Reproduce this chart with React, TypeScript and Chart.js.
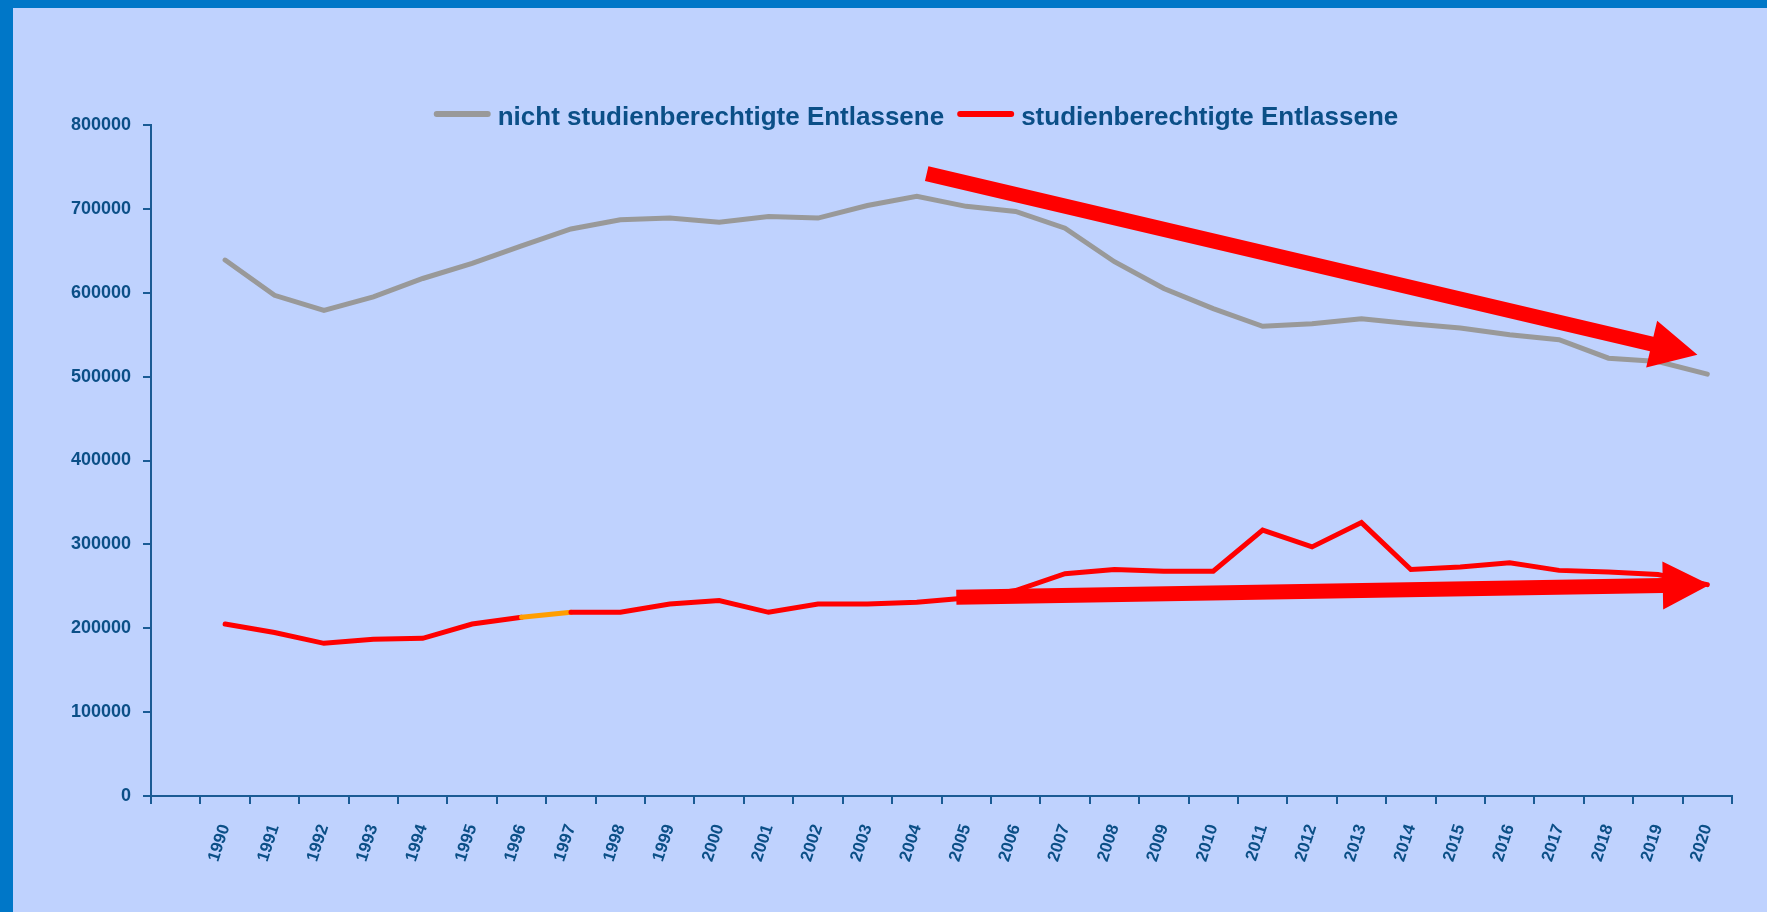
import React, { useEffect, useRef } from 'react';
import { Chart, registerables } from 'chart.js';

Chart.register(...registerables);

// ---------- data ----------
const years = [
  1990, 1991, 1992, 1993, 1994, 1995, 1996, 1997, 1998, 1999,
  2000, 2001, 2002, 2003, 2004, 2005, 2006, 2007, 2008, 2009,
  2010, 2011, 2012, 2013, 2014, 2015, 2016, 2017, 2018, 2019, 2020,
];

const nichtStudienberechtigte = [
  639000, 597000, 579000, 595000, 617000, 635000, 656000, 676000, 687000, 689000,
  684000, 691000, 689000, 704000, 715000, 703000, 697000, 677000, 637000, 605000,
  581000, 560000, 563000, 569000, 563000, 558000, 550000, 544000, 522000, 518000, 503000,
];

const studienberechtigte = [
  205000, 195000, 182000, 187000, 188000, 205000, 213000, 219000, 219000, 229000,
  233000, 219000, 229000, 229000, 231000, 236000, 245000, 265000, 270000, 268000,
  268000, 317000, 297000, 326000, 270000, 273000, 278000, 269000, 267000, 264000, 252000,
];

const seriesLabels = ['nicht studienberechtigte Entlassene', 'studienberechtigte Entlassene'];

const yTickValues = [0, 100000, 200000, 300000, 400000, 500000, 600000, 700000, 800000];

// trend arrows (data coordinates: year, value)
const arrowStartYear = [2004.2, 2004.8];
const arrowStartValue = [742000, 237000];
const arrowEndYear = [2019.8, 2020.05];
const arrowEndValue = [526000, 252000];

// ---------- styles ----------
const TEXT = '#0B4F87';
const AXIS = '#1A5B95';
const GRAY = '#999999';
const RED = '#FF0000';
const ORANGE = '#FF9E00';
const FONT = "'Liberation Sans', Arial, sans-serif";

const lineLegend = {
  id: 'lineLegend',
  afterDraw(chart: any, _args: any, opts: any) {
    const ctx = chart.ctx as CanvasRenderingContext2D;
    ctx.save();
    ctx.font = `bold ${opts.fontSize}px ${FONT}`;
    const items = chart.data.datasets.map((ds: any) => ({
      label: ds.label as string,
      color: ds.borderColor as string,
      w: ctx.measureText(ds.label).width,
    }));
    let total = 0;
    items.forEach((it: any, i: number) => {
      total += opts.lineLen + opts.gap + it.w + (i > 0 ? opts.itemGap : 0);
    });
    let x = opts.centerX - total / 2;
    items.forEach((it: any, i: number) => {
      if (i > 0) x += opts.itemGap;
      ctx.strokeStyle = it.color;
      ctx.lineWidth = opts.lineWidth;
      ctx.lineCap = 'round';
      ctx.beginPath();
      ctx.moveTo(x + opts.lineWidth / 2, opts.lineY);
      ctx.lineTo(x + opts.lineLen - opts.lineWidth / 2, opts.lineY);
      ctx.stroke();
      x += opts.lineLen + opts.gap;
      ctx.fillStyle = TEXT;
      ctx.textBaseline = 'middle';
      ctx.textAlign = 'left';
      ctx.fillText(it.label, x, opts.textY);
      x += it.w;
    });
    ctx.restore();
  },
};

const trendArrows = {
  id: 'trendArrows',
  afterDatasetsDraw(chart: any, _args: any, opts: any) {
    const ctx = chart.ctx as CanvasRenderingContext2D;
    const xs = chart.scales.x;
    const ys = chart.scales.y;
    ctx.save();
    ctx.fillStyle = opts.color;
    for (let i = 0; i < arrowStartYear.length; i++) {
      const x0 = xs.getPixelForValue(arrowStartYear[i]);
      const y0 = ys.getPixelForValue(arrowStartValue[i]);
      const x1 = xs.getPixelForValue(arrowEndYear[i]);
      const y1 = ys.getPixelForValue(arrowEndValue[i]);
      const len = Math.hypot(x1 - x0, y1 - y0);
      const ux = (x1 - x0) / len;
      const uy = (y1 - y0) / len;
      const nx = -uy;
      const ny = ux;
      const hw = opts.shaftWidth / 2;
      const bx = x1 - ux * opts.headLength;
      const by = y1 - uy * opts.headLength;
      const hh = opts.headWidth / 2;
      ctx.beginPath();
      ctx.moveTo(x0 + nx * hw, y0 + ny * hw);
      ctx.lineTo(bx + nx * hw, by + ny * hw);
      ctx.lineTo(bx + nx * hh, by + ny * hh);
      ctx.lineTo(x1, y1);
      ctx.lineTo(bx - nx * hh, by - ny * hh);
      ctx.lineTo(bx - nx * hw, by - ny * hw);
      ctx.lineTo(x0 - nx * hw, y0 - ny * hw);
      ctx.closePath();
      ctx.fill();
    }
    ctx.restore();
  },
};

export default function App() {
  const canvasRef = useRef<HTMLCanvasElement | null>(null);

  useEffect(() => {
    document.body.style.margin = '0';
    const canvas = canvasRef.current;
    if (!canvas) return;

    const chart = new Chart(canvas, {
      type: 'line',
      data: {
        datasets: [
          {
            label: seriesLabels[0],
            data: years.map((y, i) => ({ x: y, y: nichtStudienberechtigte[i] })),
            borderColor: GRAY,
            borderWidth: 5,
            borderCapStyle: 'round',
            borderJoinStyle: 'miter',
            pointRadius: 0,
            tension: 0,
            fill: false,
          },
          {
            label: seriesLabels[1],
            data: years.map((y, i) => ({ x: y, y: studienberechtigte[i] })),
            borderColor: RED,
            borderWidth: 5,
            borderCapStyle: 'round',
            borderJoinStyle: 'miter',
            pointRadius: 0,
            tension: 0,
            fill: false,
            segment: {
              borderColor: (c: any) => (years[c.p0DataIndex] === 1996 ? ORANGE : undefined),
            },
          },
        ],
      },
      options: {
        responsive: false,
        animation: false,
        events: [],
        layout: { padding: { top: 117, right: 35, left: 0, bottom: 0 } },
        plugins: {
          legend: { display: false },
          tooltip: { enabled: false },
          title: { display: false },
          lineLegend: {
            centerX: 903,
            lineY: 106,
            textY: 110,
            lineLen: 57,
            lineWidth: 6,
            gap: 7,
            itemGap: 13,
            fontSize: 26,
          },
          trendArrows: {
            color: RED,
            shaftWidth: 15,
            headLength: 47,
            headWidth: 48,
          },
        } as any,
        scales: {
          x: {
            type: 'linear',
            min: years[0] - 1.5,
            max: years[years.length - 1] + 0.5,
            afterBuildTicks: (scale: any) => {
              scale.ticks = [years[0] - 1, ...years].map((v) => ({ value: v }));
            },
            afterFit: (scale: any) => {
              scale.height = 116;
            },
            grid: {
              display: true,
              drawOnChartArea: false,
              drawTicks: true,
              offset: true,
              tickLength: 8,
              color: AXIS,
              lineWidth: 2,
            },
            border: { display: true, color: AXIS, width: 2 },
            ticks: {
              autoSkip: false,
              minRotation: 72,
              maxRotation: 72,
              padding: 18,
              color: TEXT,
              font: { family: FONT, size: 17, weight: 'bold' },
              callback: (v: any) => (years.includes(Number(v)) ? String(v) : ''),
            },
          },
          y: {
            type: 'linear',
            min: 0,
            max: 800000,
            afterBuildTicks: (scale: any) => {
              scale.ticks = yTickValues.map((v) => ({ value: v }));
            },
            afterFit: (scale: any) => {
              scale.width = 138;
            },
            grid: {
              display: true,
              drawOnChartArea: false,
              drawTicks: true,
              tickLength: 8,
              color: AXIS,
              lineWidth: 2,
            },
            border: { display: true, color: AXIS, width: 2 },
            ticks: {
              padding: 12,
              color: TEXT,
              font: { family: FONT, size: 18, weight: 'bold' },
              callback: (v: any) => String(v),
            },
          },
        },
      } as any,
      plugins: [lineLegend, trendArrows],
    });

    return () => {
      chart.destroy();
    };
  }, []);

  return (
    <div
      style={{
        position: 'relative',
        width: 1767,
        height: 912,
        background: '#0077C8',
        overflow: 'hidden',
      }}
    >
      <div
        style={{
          position: 'absolute',
          left: 13,
          top: 8,
          width: 1754,
          height: 904,
          background: '#BFD2FE',
        }}
      >
        <canvas ref={canvasRef} width={1754} height={904} style={{ display: 'block' }} />
      </div>
    </div>
  );
}
